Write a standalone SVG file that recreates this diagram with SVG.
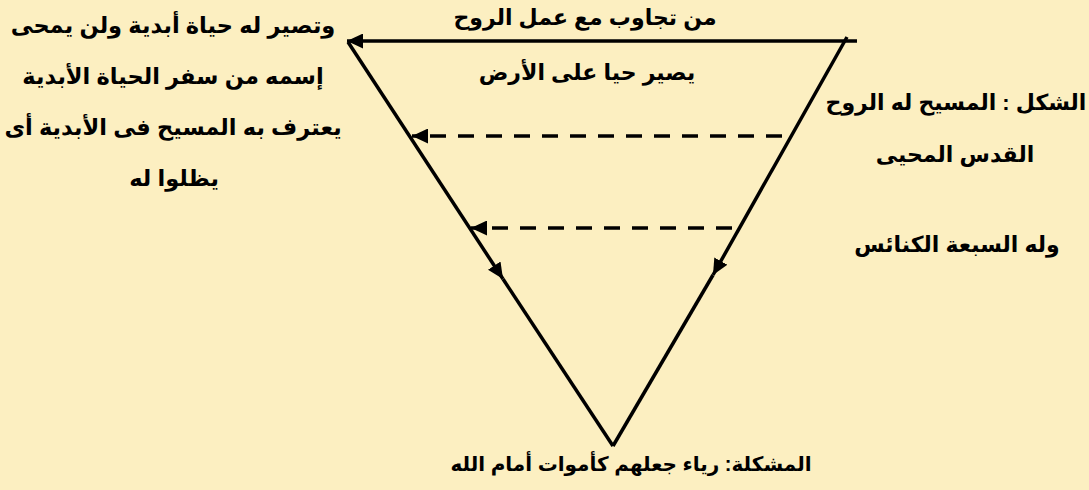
<svg xmlns="http://www.w3.org/2000/svg" width="1089" height="490" viewBox="0 0 1089 490">
<style>
.t{font-family:"Liberation Sans","DejaVu Sans",sans-serif;font-weight:bold;font-size:22px;fill:#000;text-anchor:middle}
.ln{stroke:#000;stroke-width:3.5;fill:none}
.dash{stroke:#000;stroke-width:3.5;fill:none;stroke-dasharray:16 12}
</style>
<defs>
<marker id="ah" markerUnits="userSpaceOnUse" markerWidth="16" markerHeight="15" refX="16" refY="7.5" orient="auto">
<path d="M0,0 L16,7.5 L0,15 z" fill="#000"/>
</marker>
</defs>
<rect x="0" y="0" width="1089" height="490" fill="#FCEFC1"/>
<g id="connectors">
<path class="ln" d="M857,41 L347,41" marker-end="url(#ah)"/>
<path class="ln" d="M348,42 L503,279" marker-end="url(#ah)"/>
<path class="ln" d="M503,279 L613,446"/>
<path class="ln" d="M847,37 L713,275" marker-end="url(#ah)"/>
<path class="ln" d="M713,275 L613,446"/>
<path class="dash" d="M782,136 L412,136" marker-end="url(#ah)"/>
<path class="dash" d="M732,228 L471,228" marker-end="url(#ah)"/>
</g>
<g id="top-label">
<text class="t" x="585" y="25">من تجاوب مع عمل الروح</text>
<text class="t" x="587" y="80">يصير حيا على الأرض</text>
</g>
<g id="left-label">
<text class="t" x="173" y="33" style="font-size:22.5px">وتصير له حياة أبدية ولن يمحى</text>
<text class="t" x="173" y="84" style="font-size:22.5px">إسمه من سفر الحياة الأبدية</text>
<text class="t" x="173" y="135" style="font-size:22.5px">يعترف به المسيح فى الأبدية أى</text>
<text class="t" x="174" y="186" style="font-size:22.5px">يظلوا له</text>
</g>
<g id="right-label">
<text class="t" x="956" y="110">الشكل : المسيح له الروح</text>
<text class="t" x="955" y="162">القدس المحيى</text>
<text class="t" x="957" y="252">وله السبعة الكنائس</text>
</g>
<g id="bottom-label">
<text class="t" x="631" y="471" style="font-size:20px">المشكلة: رياء جعلهم كأموات أمام الله</text>
</g>
</svg>
